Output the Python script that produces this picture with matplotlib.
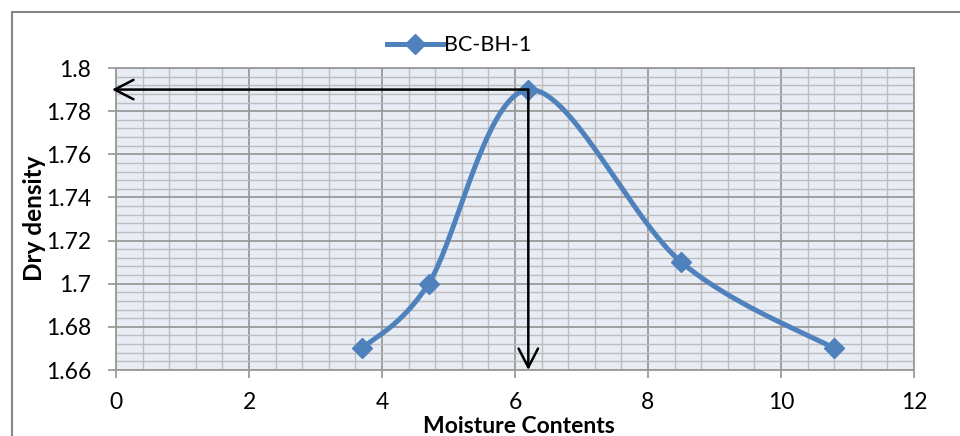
import numpy as np
import matplotlib
matplotlib.use("Agg")
import matplotlib.pyplot as plt
from matplotlib.patches import Rectangle
from matplotlib.ticker import MultipleLocator

plt.rcParams['font.family'] = ['Lato', 'DejaVu Sans']

moisture = [3.7, 4.7, 6.2, 8.5, 10.8]
dry_density = [1.67, 1.70, 1.79, 1.71, 1.67]
series_name = "BC-BH-1"
omc = 6.2
mdd = 1.79

x_ticks = [0, 2, 4, 6, 8, 10, 12]
y_ticks = [1.66, 1.68, 1.70, 1.72, 1.74, 1.76, 1.78, 1.80]
y_tick_labels = ["1.66", "1.68", "1.7", "1.72", "1.74", "1.76", "1.78", "1.8"]

W, H = 960, 436
fig = plt.figure(figsize=(W / 100, H / 100), dpi=100)
ax = fig.add_axes([116 / W, 1 - 370 / H, (914 - 116) / W, (370 - 68) / H])

# chart-area border
fig.patches.append(Rectangle((12 / W, -0.1), 1.2, (1 - 12 / H) + 0.1,
                             transform=fig.transFigure, fill=False,
                             edgecolor='#868686', linewidth=1.5))

ax.set_xlim(0, 12)
ax.set_ylim(1.66, 1.80)
ax.set_facecolor('#E8ECF4')

ax.xaxis.set_minor_locator(MultipleLocator(0.4))
ax.yaxis.set_minor_locator(MultipleLocator(0.004))
ax.set_xticks(x_ticks)
ax.set_xticklabels([str(v) for v in x_ticks])
ax.set_yticks(y_ticks)
ax.set_yticklabels(y_tick_labels)

ax.grid(which='major', color='#9A9A9A', linewidth=1.3)
ax.grid(which='minor', color='#BDBDBD', linewidth=1.0)
ax.set_axisbelow(True)

for s in ['left', 'bottom', 'right', 'top']:
    ax.spines[s].set_color('#9A9A9A')
    ax.spines[s].set_linewidth(1.3)
ax.tick_params(which='major', length=6, width=1.3, color='#9A9A9A',
               labelsize=16.5, labelcolor='black')
ax.tick_params(axis='y', pad=12)
ax.tick_params(axis='x', pad=10)
ax.tick_params(which='minor', length=0)

# smoothed curve (cardinal spline computed in display space)
fig.canvas.draw()
pts = ax.transData.transform(np.column_stack([moisture, dry_density]))
n = len(pts)
curve = []
for i in range(n - 1):
    p0 = pts[max(i - 1, 0)]
    p1 = pts[i]
    p2 = pts[i + 1]
    p3 = pts[min(i + 2, n - 1)]
    c1 = p1 + (p2 - p0) / 6.0
    c2 = p2 - (p3 - p1) / 6.0
    t = np.linspace(0, 1, 40)[:, None]
    seg = ((1 - t) ** 3) * p1 + 3 * ((1 - t) ** 2) * t * c1 + 3 * (1 - t) * t ** 2 * c2 + t ** 3 * p2
    curve.append(seg if i == 0 else seg[1:])
curve = np.vstack(curve)
curve_data = ax.transData.inverted().transform(curve)

blue = '#4F81BD'
ax.plot(curve_data[:, 0], curve_data[:, 1], color=blue, linewidth=3.6,
        solid_capstyle='round', zorder=3)
ax.plot(moisture, dry_density, linestyle='none', marker='D', markersize=10,
        color=blue, zorder=4)

# legend proxy
ax.plot([], [], color=blue, linewidth=3.6, marker='D', markersize=10, label=series_name)
leg = ax.legend(loc='lower center', bbox_to_anchor=(0.43, 1.0), frameon=False,
                fontsize=15.5, handlelength=2.6, handletextpad=0.05,
                borderaxespad=0.2)

# arrows marking maximum dry density and optimum moisture content
arrow_kw = dict(arrowstyle='->,head_length=1.35,head_width=0.7',
                color='black', linewidth=1.8, shrinkA=0, shrinkB=0)
ax.annotate('', xy=(-0.06, mdd), xytext=(omc, mdd), arrowprops=arrow_kw,
            annotation_clip=False, zorder=5)
ax.annotate('', xy=(omc, 1.66), xytext=(omc, mdd), arrowprops=arrow_kw,
            annotation_clip=False, zorder=5)

fig.text(519 / W, 1 - 426 / H, 'Moisture Contents', ha='center', va='center',
         fontsize=16.5, fontweight='bold')
fig.text(35 / W, 1 - 218 / H, 'Dry density', ha='center', va='center',
         rotation=90, fontsize=17.5, fontweight='bold')

fig.savefig('out.png', dpi=100)
